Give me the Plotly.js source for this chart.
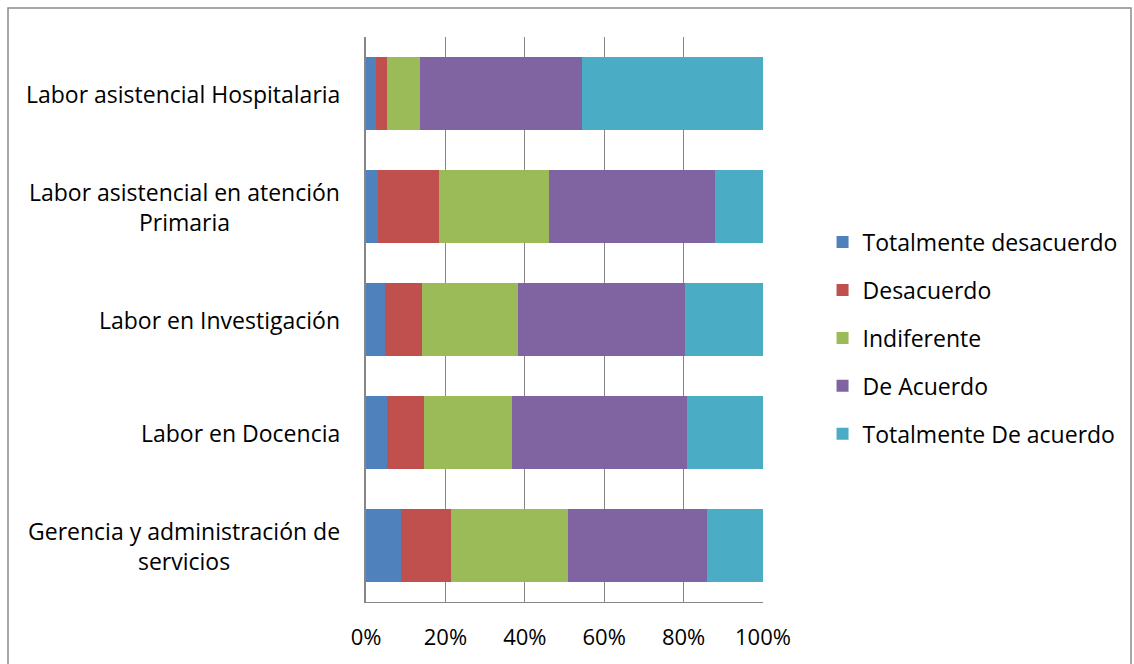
<!DOCTYPE html>
<html>
<head>
<meta charset="utf-8">
<script src="https://cdn.plot.ly/plotly-3.0.1.min.js"></script>
<style>
  html, body { margin: 0; padding: 0; background: #ffffff; }
  #chart { width: 1134px; height: 664px; }
</style>
</head>
<body>
<div id="chart"></div>
<script>
// Áreas de trabajo (de arriba hacia abajo)
const categories = [
  "Labor asistencial Hospitalaria",
  "Labor asistencial en atención<br>Primaria",
  "Labor en Investigación",
  "Labor en Docencia",
  "Gerencia y administración de<br>servicios"
];

// Niveles de respuesta
const seriesNames = [
  "Totalmente desacuerdo",
  "Desacuerdo",
  "Indiferente",
  "De Acuerdo",
  "Totalmente De acuerdo"
];

// Porcentaje de respuestas por área, una lista por nivel
const totalmenteDesacuerdo = [2.4, 3.1, 4.8, 5.4, 8.7];
const desacuerdo           = [3.0, 15.3, 9.2, 9.1, 12.7];
const indiferente          = [8.2, 27.8, 24.2, 22.2, 29.6];
const deAcuerdo            = [40.8, 41.7, 42.1, 44.1, 34.9];
const totalmenteDeAcuerdo  = [45.6, 12.1, 19.7, 19.2, 14.1];

const xTicks = [0, 20, 40, 60, 80, 100];

const seriesValues = [totalmenteDesacuerdo, desacuerdo, indiferente, deAcuerdo, totalmenteDeAcuerdo];
const colors = ["#4F81BD", "#C0504D", "#9BBB59", "#8064A2", "#4BACC6"];

const FONT = "Open Sans, Liberation Sans, sans-serif";
const FSIZE = 23;
const TXT = "#000000";

const traces = seriesNames.map((name, i) => ({
  type: "bar",
  orientation: "h",
  name: name,
  x: seriesValues[i],
  y: categories,
  legendgroup: "g" + i,
  marker: { color: colors[i], line: { width: 0 } },
  hoverinfo: "x+name"
}));

// Category labels, centred line by line, right edge next to the axis
const annotations = categories.map(cat => ({
  xref: "paper", yref: "y",
  x: 0, y: cat,
  xanchor: "right", yanchor: "middle",
  xshift: -24,
  text: cat,
  showarrow: false,
  align: "center",
  font: { family: FONT, size: FSIZE, color: TXT }
}));

const layout = {
  width: 1134,
  height: 664,
  margin: { l: 366, r: 371, t: 37, b: 62 },
  paper_bgcolor: "#ffffff",
  plot_bgcolor: "#ffffff",
  barmode: "stack",
  bargap: 0.354,
  showlegend: true,
  legend: {
    x: 1.15, xanchor: "left",
    y: 0.467, yanchor: "middle",
    traceorder: "grouped",
    tracegroupgap: 15,
    font: { family: FONT, size: FSIZE, color: TXT },
    itemwidth: 30,
    bgcolor: "rgba(0,0,0,0)"
  },
  xaxis: {
    range: [0, 100],
    tickvals: xTicks,
    ticktext: xTicks.map(v => v + "%"),
    showgrid: true,
    gridcolor: "#868686",
    gridwidth: 1,
    zeroline: false,
    showline: true,
    linecolor: "#868686",
    linewidth: 1,
    ticks: "outside",
    ticklen: 16,
    tickcolor: "rgba(0,0,0,0)",
    tickfont: { family: FONT, size: FSIZE - 1, color: TXT },
    fixedrange: true
  },
  yaxis: {
    categoryorder: "array",
    categoryarray: categories.slice().reverse(),
    showticklabels: false,
    showgrid: false,
    zeroline: false,
    showline: true,
    linecolor: "#868686",
    linewidth: 2,
    ticks: "",
    fixedrange: true
  },
  annotations: annotations,
  shapes: [{
    type: "rect",
    xref: "paper", yref: "paper",
    x0: -358 / 397, x1: 765 / 397,
    y0: -80 / 565, y1: 1 + 29 / 565,
    line: { color: "#8c8c8c", width: 1.5 },
    fillcolor: "rgba(0,0,0,0)",
    layer: "below"
  }]
};

Plotly.newPlot("chart", traces, layout, { displayModeBar: false, staticPlot: true });
</script>
</body>
</html>
